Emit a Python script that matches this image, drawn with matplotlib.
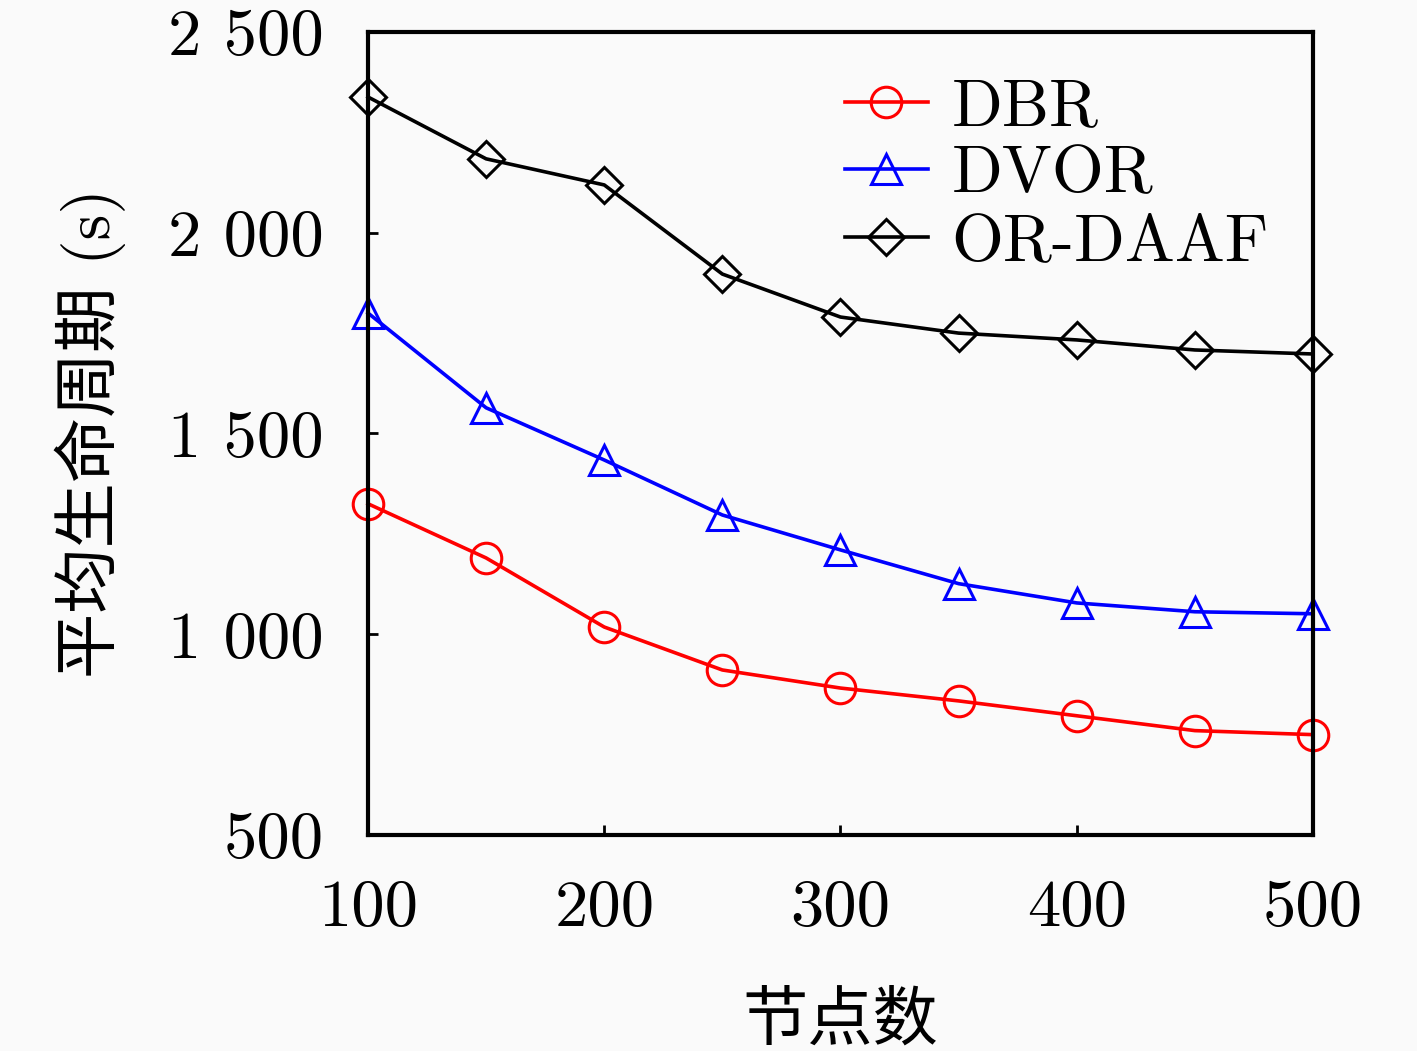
import matplotlib
matplotlib.use('Agg')
import matplotlib.pyplot as plt

# node counts and average lifetime (s)
nodes = [100, 150, 200, 250, 300, 350, 400, 450, 500]
dbr = [1325, 1190, 1018, 911, 866, 834, 797, 760, 750]
dvor = [1800, 1564, 1434, 1297, 1210, 1126, 1078, 1056, 1051]
or_daaf = [2338, 2184, 2119, 1897, 1790, 1750, 1733, 1708, 1698]

xticks = [100, 200, 300, 400, 500]
yticks = [500, 1000, 1500, 2000, 2500]
ytick_labels = ['500', '1 000', '1 500', '2 000', '2 500']

plt.rcParams['font.family'] = ['cmr10', 'Noto Sans CJK SC', 'DejaVu Sans']
plt.rcParams['axes.unicode_minus'] = False

fig = plt.figure(figsize=(14.17, 10.51), dpi=100, facecolor='#fafafa')
ax = fig.add_axes([0.2597, 0.2055, 0.6669, 0.7641])
ax.set_facecolor('#fafafa')

style = dict(linewidth=2.6, markersize=22, markeredgewidth=2.2, markerfacecolor='none', clip_on=False)
ax.plot(nodes, dbr, '-o', color='red', label='DBR', **style)
ax.plot(nodes, dvor, '-^', color='blue', label='DVOR', **style)
ax.plot(nodes, or_daaf, '-D', color='black', label='OR-DAAF', markersize=18, linewidth=2.6,
        markeredgewidth=2.2, markerfacecolor='none', clip_on=False)

ax.set_xlim(100, 500)
ax.set_ylim(500, 2500)
ax.set_xticks(xticks)
ax.set_xticklabels([str(t) for t in xticks])
ax.set_yticks(yticks)
ax.set_yticklabels(ytick_labels)
ax.tick_params(direction='in', length=7, width=2, labelsize=48)
ax.tick_params(axis='y', pad=32)
ax.tick_params(axis='x', pad=32)
for s in ax.spines.values():
    s.set_linewidth(3)

ax.set_xlabel('节点数', fontsize=47, labelpad=38)
ax.set_ylabel('平均生命周期 (s)', fontsize=47, labelpad=30)

legend = ax.legend(loc='upper right', bbox_to_anchor=(1.013, 1.013), frameon=False, fontsize=48,
                   handlelength=1.25, handletextpad=0.35, labelspacing=0.12, borderaxespad=0.45)

fig.savefig('out.png', dpi=100, facecolor=fig.get_facecolor())
